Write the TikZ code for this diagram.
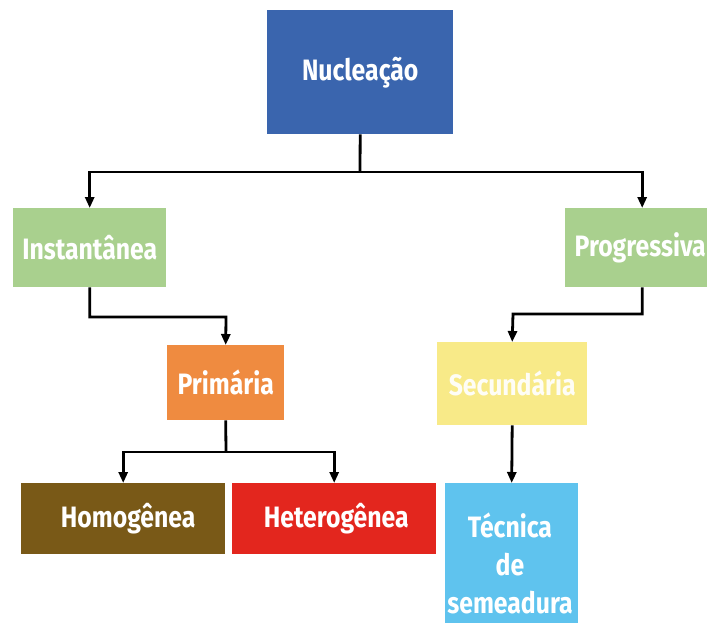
\documentclass[tikz,border=0pt]{standalone}
\usepackage{fontspec}
\setmainfont{Fira Sans}[FakeStretch=0.84]
\usetikzlibrary{arrows.meta}
\definecolor{cnuc}{HTML}{3A65AE}
\definecolor{cgreen}{HTML}{A9D08E}
\definecolor{corange}{HTML}{EF8B40}
\definecolor{cbrown}{HTML}{795917}
\definecolor{cred}{HTML}{E3261E}
\definecolor{cyellow}{HTML}{F8EA88}
\definecolor{cblue}{HTML}{5FC3EE}
\tikzset{
  box/.style={rectangle, inner sep=0pt, anchor=north west, text=white,
    font=\fontsize{29.5}{38}\selectfont\bfseries, align=center},
  arr/.style={line width=2.8pt, -{Triangle[length=11pt,width=9pt]}},
  ln/.style={line width=2.8pt}
}
\begin{document}
\begin{tikzpicture}[x=1pt,y=-1pt]
\clip (0,0) rectangle (707,623);
\fill[white] (0,0) rectangle (707,623);
\node[box, fill=cnuc, minimum width=186pt, minimum height=124pt] (nuc) at (267,10) {Nucleação};
\node[box, fill=cgreen, minimum width=153pt, minimum height=79pt] (inst) at (13,208) {Instantânea};
\node[box, fill=cgreen, minimum width=150pt, minimum height=79pt] (prog) at (565,208) {Progressiva};
\node[box, fill=corange, minimum width=117pt, minimum height=75pt] (prim) at (167,345) {Primária};
\node[box, fill=cyellow, minimum width=150pt, minimum height=83pt, text=white!92!cyellow] (sec) at (437,342) {Secundária};
\node[box, fill=cbrown, minimum width=204pt, minimum height=71pt] (hom) at (21,483) {\hspace*{10pt}Homogênea};
\node[box, fill=cred, minimum width=204pt, minimum height=71pt] (het) at (232,483) {\hspace*{4pt}Heterogênea};
\node[box, fill=cblue, minimum width=133pt, minimum height=150pt] (tec) at (445,483) {};
\node[font=\fontsize{29.5}{38}\selectfont\bfseries, text=white, align=center, inner sep=0pt] (tect) at (510,563) {Técnica\\de\\semeadura};
\coordinate (j1) at (360,172);
\coordinate (j2) at (226,317);
\coordinate (j3) at (513,314);
\coordinate (j4) at (226,452);
\draw[ln] (nuc.south) -- (j1);
\draw[arr] (j1) -| ([xshift=0pt]inst.north);
\draw[arr] (j1) -| ([xshift=2pt]prog.north);
\draw[arr] (inst.south) |- (j2) -- (prim.north);
\draw[arr] ([xshift=2pt]prog.south) |- (j3) -- (sec.north);
\draw[ln] (prim.south) -- (j4);
\draw[arr] (j4) -| (hom.north);
\draw[arr] (j4) -| (het.north);
\draw[arr] (sec.south) -- (tec.north);
\end{tikzpicture}
\end{document}
